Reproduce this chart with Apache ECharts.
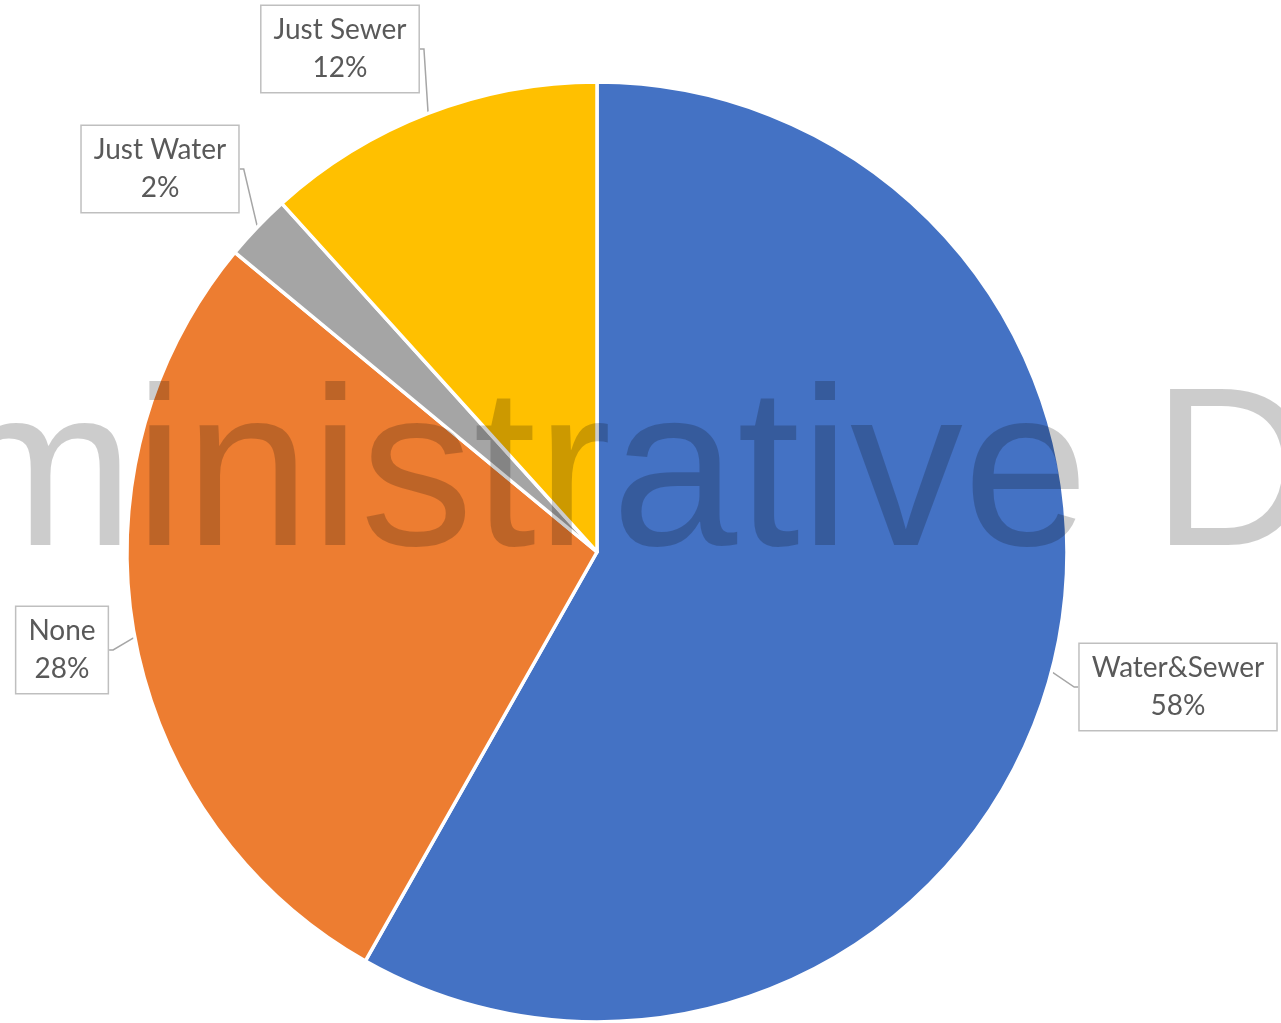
<!DOCTYPE html>
<html>
<head>
<meta charset="utf-8">
<script src="https://cdn.jsdelivr.net/npm/echarts@6/dist/echarts.min.js"></script>
<style>
html,body{margin:0;padding:0;background:#fff;}
#chart{width:1281px;height:1023px;}
</style>
</head>
<body>
<div id="chart"></div>
<script>
// Data
var categories = ['Water&Sewer', 'None', 'Just Water', 'Just Sewer'];
var values = [58.2, 27.8, 2.3, 11.7];
var colors = ['#4472C4', '#ED7D31', '#A5A5A5', '#FFC000'];
var watermarkText = 'ministrative D';

// Label box centres (layout only)
var labelPos = [
  {x: 1178, y: 687},
  {x: 62, y: 650},
  {x: 160, y: 169},
  {x: 340, y: 49}
];

var chart = echarts.init(document.getElementById('chart'));
var data = categories.map(function (c, i) {
  return { name: c, value: values[i], itemStyle: { color: colors[i] } };
});

chart.setOption({
  backgroundColor: '#ffffff',
  animation: false,
  series: [{
    type: 'pie',
    center: [597, 552],
    radius: 470,
    startAngle: 90,
    clockwise: true,
    data: data,
    itemStyle: { borderColor: '#ffffff', borderWidth: 3.5 },
    label: {
      show: true,
      position: 'outside',
      formatter: function (p) { return p.name + '\n' + Math.round(p.percent) + '%'; },
      color: '#595959',
      fontFamily: 'Lato',
      fontSize: 28,
      lineHeight: 38,
      align: 'center',
      backgroundColor: '#ffffff',
      borderColor: '#bfbfbf',
      borderWidth: 1.5,
      padding: [5, 12]
    },
    labelLine: {
      show: true,
      length: 6,
      length2: 4,
      lineStyle: { color: '#a6a6a6', width: 1.5 }
    },
    labelLayout: function (params) {
      var p = labelPos[params.dataIndex];
      return { x: p.x, y: p.y, align: 'center', verticalAlign: 'middle' };
    }
  }],
  graphic: [{
    type: 'text',
    x: -54,
    y: 483,
    z: 100,
    silent: true,
    style: {
      text: watermarkText,
      font: '226px "Liberation Sans", Arial, sans-serif',
      fill: 'rgba(0,0,0,0.2)',
      verticalAlign: 'middle',
      align: 'left'
    }
  }]
});
</script>
</body>
</html>
